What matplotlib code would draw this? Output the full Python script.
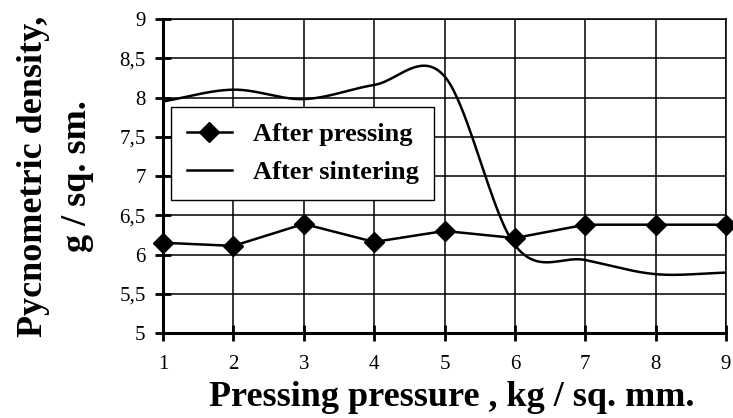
import numpy as np
import matplotlib
matplotlib.use("Agg")
import matplotlib.pyplot as plt

plt.rcParams['font.family'] = ['Liberation Serif', 'DejaVu Serif']

pressure = [1, 2, 3, 4, 5, 6, 7, 8, 9]
after_pressing = [6.15, 6.11, 6.39, 6.16, 6.30, 6.21, 6.38, 6.38, 6.38]
after_sintering = [7.95, 8.10, 7.98, 8.16, 8.27, 6.12, 5.93, 5.75, 5.77]
yticks = [5, 5.5, 6, 6.5, 7, 7.5, 8, 8.5, 9]
ytick_labels = ['5', '5,5', '6', '6,5', '7', '7,5', '8', '8,5', '9']


def smooth(x, y, n=40):
    # catmull-rom style smoothing like a spreadsheet "smoothed line"
    x = np.asarray(x, float)
    y = np.asarray(y, float)
    m = np.zeros_like(y)
    m[1:-1] = (y[2:] - y[:-2]) / 2
    m[0] = y[1] - y[0]
    m[-1] = y[-1] - y[-2]
    xs, ys = [], []
    for i in range(len(x) - 1):
        t = np.linspace(0, 1, n, endpoint=False)
        h00 = 2 * t**3 - 3 * t**2 + 1
        h10 = t**3 - 2 * t**2 + t
        h01 = -2 * t**3 + 3 * t**2
        h11 = t**3 - t**2
        xs.append(x[i] + t * (x[i + 1] - x[i]))
        ys.append(h00 * y[i] + h10 * m[i] + h01 * y[i + 1] + h11 * m[i + 1])
    xs.append([x[-1]])
    ys.append([y[-1]])
    return np.concatenate(xs), np.concatenate(ys)


fig = plt.figure(figsize=(7.33, 4.18), dpi=100)
ax = fig.add_axes([0.2224, 0.2033, 0.7681, 0.7512])

sx, sy = smooth(pressure, after_sintering)
ax.plot(pressure, after_pressing, color='black', lw=1.8, marker='D', ms=10,
        label='After pressing', clip_on=False, zorder=4)
ax.plot(sx, sy, color='black', lw=1.8, label='After sintering', zorder=3)

ax.set_xlim(1, 9)
ax.set_ylim(5, 9)
ax.set_xticks(pressure)
ax.set_yticks(yticks)
ax.set_yticklabels(ytick_labels)
ax.grid(True, color='black', lw=1.1)
ax.set_axisbelow(True)

for s in ['top', 'right']:
    ax.spines[s].set_linewidth(1.1)
for s in ['left', 'bottom']:
    ax.spines[s].set_linewidth(2.2)
ax.tick_params(direction='inout', length=11, width=2, labelsize=15)
ax.tick_params(axis='x', pad=10)
ax.tick_params(axis='y', pad=7)

ax.set_xlabel('Pressing pressure , kg / sq. mm.', fontsize=26, fontweight='bold', labelpad=5.5)
ax.xaxis.label.set_x(0.513)
ax.set_ylabel('Pycnometric density,\ng / sq. sm.', fontsize=26, fontweight='bold',
              labelpad=18, linespacing=1.45)

leg = ax.legend(loc='upper left', bbox_to_anchor=(0.014, 0.72), borderaxespad=0,
                prop={'size': 19, 'weight': 'bold'}, fancybox=False, framealpha=1,
                edgecolor='black', handlelength=1.7, borderpad=0.6,
                labelspacing=0.56, handletextpad=0.8)
leg.get_frame().set_linewidth(1.0)

fig.savefig('out.png', dpi=100)
